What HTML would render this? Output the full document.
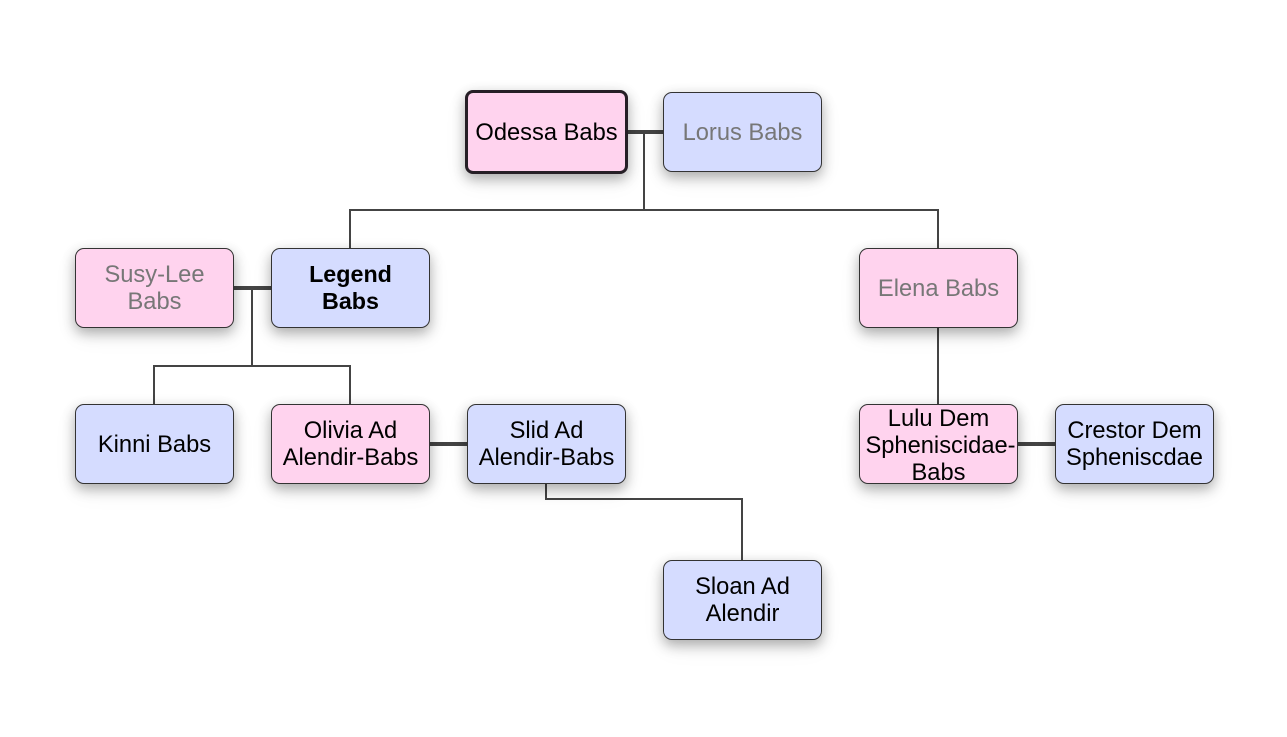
<!DOCTYPE html>
<html>
<head>
<meta charset="utf-8">
<style>
html,body{margin:0;padding:0;width:1287px;height:737px;background:#fff;overflow:hidden}
body{position:relative;font-family:"Liberation Sans",Arial,sans-serif}
.n{position:absolute;box-sizing:border-box;width:159px;height:80px;border:1px solid #333;border-radius:9px;display:flex;align-items:center;justify-content:center;text-align:center;font-size:23.7px;line-height:27px;color:#000;padding-bottom:1px;white-space:nowrap;box-shadow:0 5px 13px rgba(0,0,0,.3),0 8px 24px rgba(0,0,0,.06)}
.n span{position:relative;display:block}
.s1 span{top:2px}
.s2 span{top:1px}
.s3 span{top:3px}
.f{background:#ffd3ee}
.m{background:#d5dcff}
.g{color:#777}
.b{font-weight:bold;font-size:23.3px}
.b.s2 span{top:0}
.r{border:3px solid #261f26;width:163px;height:84px;border-radius:8px}
.l{position:absolute;background:#444}
</style>
</head>
<body>
<!-- connectors -->
<div class="l" style="left:627px;top:130px;width:37px;height:4px"></div>
<div class="l" style="left:643px;top:132px;width:2px;height:78px"></div>
<div class="l" style="left:349px;top:209px;width:590px;height:2px"></div>
<div class="l" style="left:349px;top:209px;width:2px;height:40px"></div>
<div class="l" style="left:937px;top:209px;width:2px;height:40px"></div>
<div class="l" style="left:233px;top:286px;width:39px;height:4px"></div>
<div class="l" style="left:251px;top:288px;width:2px;height:78px"></div>
<div class="l" style="left:153px;top:365px;width:198px;height:2px"></div>
<div class="l" style="left:153px;top:365px;width:2px;height:40px"></div>
<div class="l" style="left:349px;top:365px;width:2px;height:40px"></div>
<div class="l" style="left:937px;top:327px;width:2px;height:78px"></div>
<div class="l" style="left:429px;top:442px;width:39px;height:4px"></div>
<div class="l" style="left:1017px;top:442px;width:39px;height:4px"></div>
<div class="l" style="left:545px;top:483px;width:2px;height:16px"></div>
<div class="l" style="left:545px;top:498px;width:198px;height:2px"></div>
<div class="l" style="left:741px;top:498px;width:2px;height:63px"></div>
<!-- nodes -->
<div class="n f r s1" style="left:465px;top:90px"><span>Odessa Babs</span></div>
<div class="n m g s1" style="left:663px;top:92px"><span>Lorus Babs</span></div>
<div class="n f g s2" style="left:75px;top:248px"><span>Susy-Lee<br>Babs</span></div>
<div class="n m b s2" style="left:271px;top:248px"><span>Legend<br>Babs</span></div>
<div class="n f g s1" style="left:859px;top:248px"><span>Elena Babs</span></div>
<div class="n m s1" style="left:75px;top:404px"><span>Kinni Babs</span></div>
<div class="n f s2" style="left:271px;top:404px"><span>Olivia Ad<br>Alendir-Babs</span></div>
<div class="n m s2" style="left:467px;top:404px"><span>Slid Ad<br>Alendir-Babs</span></div>
<div class="n f s3" style="left:859px;top:404px"><span>Lulu Dem<br><b style="font-weight:normal;position:relative;left:2px">Spheniscidae-</b><br>Babs</span></div>
<div class="n m s2" style="left:1055px;top:404px"><span>Crestor Dem<br>Spheniscdae</span></div>
<div class="n m s2" style="left:663px;top:560px"><span>Sloan Ad<br>Alendir</span></div>
</body>
</html>
